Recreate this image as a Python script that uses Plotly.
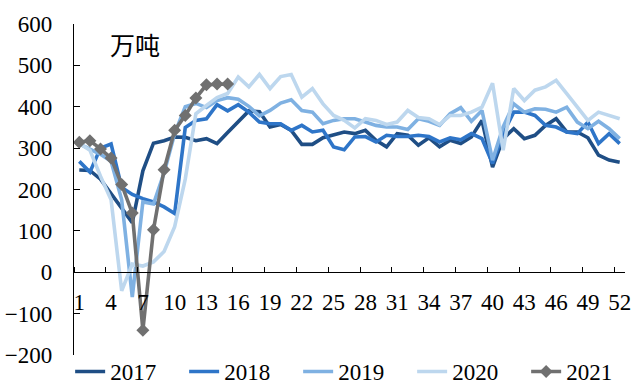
import plotly.graph_objects as go

# Weekly values (万吨), weeks 1-52
weeks = list(range(1, 53))

y2017 = [247, 246, 225, 190, 155, 120, 245, 312, 318, 327, 326, 318, 323, 311, 338, 363,
         390, 388, 351, 357, 343, 309, 309, 325, 331, 339, 335, 343, 319, 303, 335, 331,
         307, 325, 303, 319, 311, 327, 367, 254, 323, 347, 323, 331, 355, 371, 339, 339,
         325, 283, 271, 266]

y2018 = [268, 242, 300, 310, 205, 188, 178, 170, 158, 142, 350, 367, 371, 405, 390, 405,
         387, 363, 359, 359, 343, 355, 339, 343, 303, 296, 327, 328, 315, 331, 328, 328,
         331, 328, 315, 325, 320, 335, 323, 263, 335, 387, 387, 379, 355, 351, 339, 335,
         363, 311, 335, 311]

y2019 = [310, 298, 285, 268, 175, -60, 170, 165, 240, 335, 400, 408, 398, 415, 422, 418,
         401, 378, 391, 409, 417, 391, 387, 359, 367, 371, 371, 363, 355, 351, 351, 345,
         371, 365, 355, 383, 398, 365, 391, 271, 351, 407, 387, 395, 394, 387, 399, 363,
         347, 365, 347, 323]

y2020 = [312, 295, 232, 175, -45, 20, 15, 25, 50, 110, 225, 383, 403, 422, 432, 472,
         448, 478, 444, 473, 478, 423, 444, 407, 379, 367, 349, 371, 367, 357, 363, 391,
         374, 371, 357, 379, 379, 387, 399, 457, 295, 444, 415, 440, 448, 464, 432, 399,
         367, 387, 379, 371]

y2021 = [314, 318, 298, 276, 212, 143, -140, 103, 248, 343, 379, 421, 453, 455, 455]

series = [
    ("2017", y2017, "#1F4E85"),
    ("2018", y2018, "#2E75C8"),
    ("2019", y2019, "#7FB1E2"),
    ("2020", y2020, "#BDD7EE"),
]

x_ticks = list(range(1, 53, 3))
y_ticks = list(range(-200, 601, 100))

SERIF = "Liberation Serif"
FS = 23

fig = go.Figure()
for name, vals, color in series:
    fig.add_trace(go.Scatter(
        x=weeks[:len(vals)], y=vals, name=name, mode="lines",
        line=dict(color=color, width=3.6),
    ))

fig.add_trace(go.Scatter(
    x=weeks[:len(y2021)], y=y2021, name="2021", mode="lines+markers",
    line=dict(color="#707070", width=3.6),
    marker=dict(symbol="diamond", size=10, color="#707070"),
))

fig.update_layout(
    width=636, height=383,
    margin=dict(l=74, r=11, t=24, b=28, autoexpand=False),
    paper_bgcolor="white", plot_bgcolor="white",
    font=dict(family=SERIF, size=FS, color="black"),
    showlegend=True,
    legend=dict(
        orientation="h", x=-0.007, xanchor="left", y=-0.05, yanchor="middle",
        font=dict(family=SERIF, size=FS, color="black"),
        entrywidth=69, entrywidthmode="pixels",
        tracegroupgap=0, itemwidth=30, bgcolor="rgba(0,0,0,0)",
    ),
    xaxis=dict(
        range=[0.5, 52.5], tickmode="array", tickvals=x_ticks,
        ticktext=[str(v) for v in x_ticks],
        ticks="", showgrid=False, zeroline=False,
        showline=True, linecolor="black", linewidth=1.3,
        anchor="free", position=0.25,
        ticklabelstandoff=9,
        minor=dict(tick0=0.5, dtick=3, ticks="inside", ticklen=5,
                   tickcolor="black", tickwidth=1.3, showgrid=False),
    ),
    yaxis=dict(
        range=[-200, 600], tickmode="array", tickvals=y_ticks,
        ticks="inside", ticklen=6, tickwidth=1.3, tickcolor="black",
        showgrid=False, zeroline=False,
        showline=True, linecolor="black", linewidth=1.3,
        ticklabelstandoff=16,
    ),
)

fig.add_annotation(
    text="万吨", xref="paper", yref="paper", x=0.11, y=0.94,
    xanchor="center", yanchor="middle", showarrow=False,
    font=dict(family="Noto Sans CJK SC", size=25, color="black"),
)

fig.write_html("out.html")
